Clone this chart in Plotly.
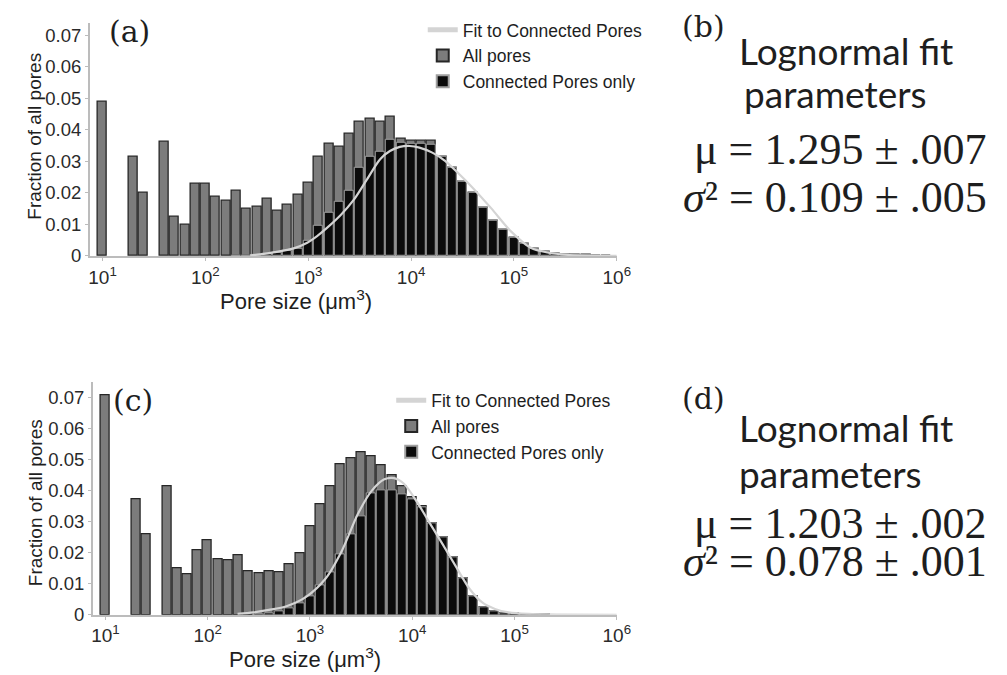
import plotly.graph_objects as go

# ---------------- data ----------------
# bin centres: log10 of pore size (µm³)
bin_exp = [1.0, 1.1, 1.2, 1.3, 1.4, 1.5, 1.6, 1.7, 1.8, 1.9,
           2.0, 2.1, 2.2, 2.3, 2.4, 2.5, 2.6, 2.7, 2.8, 2.9,
           3.0, 3.1, 3.2, 3.3, 3.4, 3.5, 3.6, 3.7, 3.8, 3.9,
           4.0, 4.1, 4.2, 4.3, 4.4, 4.5, 4.6, 4.7, 4.8, 4.9,
           5.0, 5.1, 5.2, 5.3, 5.4, 5.5, 5.6, 5.7, 5.8, 5.9]

a_all = [0.0490, None, None, 0.0316, 0.0199, None, 0.0362, 0.0124, 0.0100, 0.0228,
         0.0228, 0.0187, 0.0176, 0.0207, 0.0151, 0.0157, 0.0181, 0.0142, 0.0162, 0.0193,
         0.0231, 0.0316, 0.0356, 0.0348, 0.0389, 0.0425, 0.0436, 0.0426, 0.0443, 0.0372,
         0.0367, 0.0367, 0.0366, 0.0316, 0.0280, 0.0234, 0.0200, 0.0152, 0.0112, 0.0082,
         0.0058, 0.0040, 0.0022, 0.0013, 0.0008, 0.0005, 0.0004, 0.0003, 0.0002, 0.0001]

a_conn = [None, None, None, None, None, None, None, None, None, None,
          None, None, None, 0.0001, 0.0002, 0.0004, 0.0007, 0.0010, 0.0016, 0.0024,
          0.0047, 0.0097, 0.0136, 0.0173, 0.0208, 0.0279, 0.0316, 0.0331, 0.0370, 0.0360,
          0.0357, 0.0357, 0.0354, 0.0316, 0.0280, 0.0234, 0.0200, 0.0152, 0.0112, 0.0082,
          0.0058, 0.0040, 0.0022, 0.0013, 0.0008, 0.0005, 0.0004, 0.0003, 0.0002, 0.0001]

a_fit_x = [2.435, 2.531, 2.675, 2.866, 2.990, 3.086, 3.182, 3.316, 3.440, 3.565,
           3.699, 3.794, 3.890, 3.986, 4.081, 4.206, 4.330, 4.464, 4.589, 4.780,
           4.971, 5.163, 5.325, 5.545, 6.000]
a_fit_y = [0.0002, 0.0005, 0.0012, 0.0025, 0.0042, 0.0063, 0.0089, 0.0130, 0.0177, 0.0240,
           0.0307, 0.0333, 0.0346, 0.0349, 0.0344, 0.0328, 0.0302, 0.0261, 0.0220, 0.0151,
           0.0078, 0.0026, 0.0011, 0.0003, 0.0000]

c_all = [0.0707, None, None, 0.0371, 0.0259, None, 0.0412, 0.0149, 0.0130, 0.0209,
         0.0240, 0.0180, 0.0174, 0.0192, 0.0140, 0.0132, 0.0141, 0.0137, 0.0162, 0.0199,
         0.0285, 0.0357, 0.0415, 0.0484, 0.0502, 0.0524, 0.0511, 0.0480, 0.0448, 0.0412,
         0.0377, 0.0348, 0.0293, 0.0250, 0.0186, 0.0119, 0.0061, 0.0023, 0.0011, 0.0006,
         0.0004, 0.0003, 0.0002, 0.0001, None, None, None, None, None, None]

c_conn = [None, None, None, None, None, None, None, None, None, None,
          None, None, None, None, None, 0.0003, 0.0006, 0.0012, 0.0020, 0.0037,
          0.0061, 0.0095, 0.0138, 0.0196, 0.0259, 0.0318, 0.0390, 0.0401, 0.0401, 0.0389,
          0.0373, 0.0346, 0.0293, 0.0250, 0.0186, 0.0119, 0.0061, 0.0023, 0.0011, 0.0006,
          0.0004, 0.0003, 0.0002, 0.0001, None, None, None, None, None, None]

c_fit_x = [2.292, 2.445, 2.598, 2.770, 2.962, 3.153, 3.316, 3.469, 3.603, 3.727,
           3.823, 3.919, 4.043, 4.177, 4.301, 4.426, 4.560, 4.684, 4.809, 4.943,
           5.134, 5.450, 6.000]
c_fit_y = [0.0003, 0.0008, 0.0016, 0.0028, 0.0058, 0.0117, 0.0209, 0.0325, 0.0399, 0.0436,
           0.0440, 0.0422, 0.0365, 0.0292, 0.0225, 0.0156, 0.0084, 0.0040, 0.0019, 0.0008,
           0.0003, 0.0001, 0.0000]

x_tick_vals = [1, 2, 3, 4, 5, 6]
x_tick_text = ["10<sup>1</sup>", "10<sup>2</sup>", "10<sup>3</sup>",
               "10<sup>4</sup>", "10<sup>5</sup>", "10<sup>6</sup>"]
y_tick_vals = [0, 0.01, 0.02, 0.03, 0.04, 0.05, 0.06, 0.07]
y_tick_text = ["0", "0.01", "0.02", "0.03", "0.04", "0.05", "0.06", "0.07"]

params_top = ["1.295", ".007", "0.109", ".005"]
params_bot = ["1.203", ".002", "0.078", ".001"]

# ---------------- figure ----------------
W, H = 1007, 675
def px(x):
    return x / W
def py(y):
    return (H - y) / H

GRAY = "#7c7c7c"
BLACK = "#0b0b0b"
FIT = "#d4d4d4"
TXT = "#1e1e1e"
BAR_W = 0.088

fig = go.Figure()

def add_panel(xa, ya, legend, all_v, conn_v, fx, fy):
    fig.add_trace(go.Bar(x=bin_exp, y=all_v, width=BAR_W, name="All pores",
                         marker=dict(color=GRAY, line=dict(color="#262626", width=1.3)),
                         xaxis=xa, yaxis=ya, legend=legend, legendrank=2))
    fig.add_trace(go.Bar(x=bin_exp, y=conn_v, width=BAR_W, name="Connected Pores only",
                         marker=dict(color=BLACK, line=dict(color="#a0a0a0", width=1)),
                         xaxis=xa, yaxis=ya, legend=legend, legendrank=3))
    fig.add_trace(go.Scatter(x=fx, y=fy, mode="lines", name="Fit to Connected Pores",
                             line=dict(color=FIT, width=2.2, shape="spline", smoothing=0.8),
                             xaxis=xa, yaxis=ya, legend=legend, legendrank=1))

add_panel("x", "y", "legend", a_all, a_conn, a_fit_x, a_fit_y)
add_panel("x2", "y2", "legend2", c_all, c_conn, c_fit_x, c_fit_y)

xaxis_common = dict(range=[0.876, 6.0], tickvals=x_tick_vals, ticktext=x_tick_text,
                    showgrid=False, zeroline=False, showline=True, linecolor="#bcbcbc",
                    linewidth=1.5, ticks="outside", ticklen=3, tickcolor="#bcbcbc",
                    tickfont=dict(family="Liberation Sans, Arial", size=19, color="#2a2a2a"))
yaxis_common = dict(tickvals=y_tick_vals, ticktext=y_tick_text,
                    showgrid=False, zeroline=False, showline=True, linecolor="#bcbcbc",
                    linewidth=1.5, ticks="outside", ticklen=3, tickcolor="#bcbcbc",
                    tickfont=dict(family="Liberation Sans, Arial", size=18.5, color="#2a2a2a"))

LEGFONT = dict(family="Liberation Sans, Arial", size=17.5, color=TXT)
fig.update_layout(
    width=W, height=H, margin=dict(l=0, r=0, t=0, b=0),
    paper_bgcolor="white", plot_bgcolor="white",
    barmode="overlay", bargap=0,
    xaxis=dict(domain=[px(82), px(617)], anchor="y", **xaxis_common),
    yaxis=dict(domain=[py(251.7), py(15)], anchor="x", range=[0, 0.074], **yaxis_common),
    xaxis2=dict(domain=[px(85), px(617)], anchor="y2", **xaxis_common),
    yaxis2=dict(domain=[py(616), py(380)], anchor="x2", range=[0, 0.0748], **yaxis_common),
    legend=dict(x=px(420), y=py(4), xanchor="left", yanchor="top",
                bgcolor="rgba(0,0,0,0)", tracegroupgap=0, itemsizing="constant",
                font=LEGFONT),
    legend2=dict(x=px(388), y=py(380), xanchor="left", yanchor="top",
                 bgcolor="rgba(0,0,0,0)", tracegroupgap=0, itemsizing="constant",
                 font=LEGFONT),
    showlegend=True,
)

ann = []
def A(text, x, y, size, family, xanchor="center", yanchor="middle", angle=0):
    ann.append(dict(text=text, x=px(x), y=py(y), xref="paper", yref="paper",
                    xanchor=xanchor, yanchor=yanchor, showarrow=False, textangle=angle,
                    font=dict(family=family, size=size, color=TXT)))

SANS = "Liberation Sans, Arial"
SERIF = "DejaVu Serif"
MATH = "Liberation Serif"
CAL = "Lato"

# panel labels
A("(a)", 122, 24, 30, SERIF)
A("(c)", 126, 398, 30, SERIF)
# axis titles
A("Fraction of all pores", 25, 130, 19, SANS, angle=-90)
A("Fraction of all pores", 27, 502, 19, SANS, angle=-90)
A("Pore size (μm<sup>3</sup>)", 291, 296, 22, SANS)
A("Pore size (μm<sup>3</sup>)", 300, 660, 22, SANS)

# right-hand parameter panels
A("(b)", 681, 19, 30, SERIF, xanchor="left")
A("Lognormal fit", 739, 43, 37, CAL, xanchor="left")
A("parameters", 744, 87, 37, CAL, xanchor="left")
A("(d)", 681, 396, 30, SERIF, xanchor="left")
A("Lognormal fit", 739, 426, 37, CAL, xanchor="left")
A("parameters", 739, 473, 37, CAL, xanchor="left")

A("μ = " + params_top[0] + " ± " + params_top[1], 995, 144, 44, MATH, xanchor="right")
A("<i>σ</i>² = " + params_top[2] + " ± " + params_top[3], 995, 192, 44, MATH, xanchor="right")
A("μ = " + params_bot[0] + " ± " + params_bot[1], 995, 523, 44, MATH, xanchor="right")
A("<i>σ</i>² = " + params_bot[2] + " ± " + params_bot[3], 995, 562, 44, MATH, xanchor="right")

fig.update_layout(annotations=ann)

fig.write_html("out.html")
